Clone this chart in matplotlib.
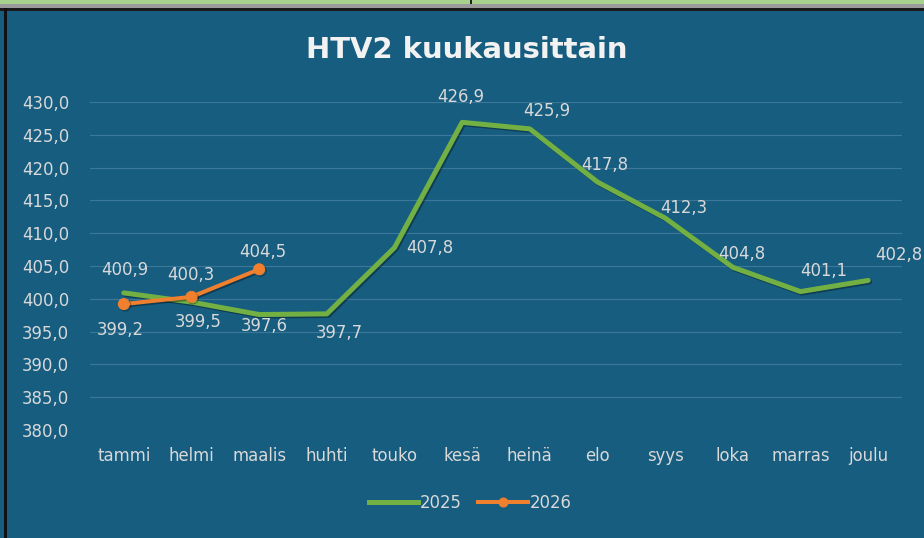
import matplotlib
matplotlib.use("Agg")
import matplotlib.pyplot as plt
import matplotlib.patheffects as pe
from matplotlib.lines import Line2D
from matplotlib.patches import Rectangle

months = ["tammi", "helmi", "maalis", "huhti", "touko", "kesä", "heinä",
          "elo", "syys", "loka", "marras", "joulu"]
values_2025 = [400.9, 399.5, 397.6, 397.7, 407.8, 426.9, 425.9, 417.8, 412.3, 404.8, 401.1, 402.8]
values_2026 = [399.2, 400.3, 404.5]
yticks = [380, 385, 390, 395, 400, 405, 410, 415, 420, 425, 430]

# label offsets in pixels (dx, dy)
off_2025 = [(1, 23), (7, -20), (5, -11), (12, -19), (35, 0), (-1, 25),
            (17, 18), (7, 17), (19, 10), (9, 13), (23, 21), (31, 25)]
off_2026 = [(-4, -26), (-1, 22), (4, 17)]

BG = "#175D80"
TXT = "#D9D9D9"
GREEN = "#73B043"
ORANGE = "#F07F2E"
GRID = "#3B7798"

plt.rcParams['font.family'] = ['DejaVu Sans']

fig = plt.figure(figsize=(924 / 72, 538 / 72), dpi=72)
fig.patch.set_facecolor(BG)

# spreadsheet strip on top
fig.patches.append(Rectangle((0, 1 - 4 / 538), 1, 4 / 538, transform=fig.transFigure,
                             facecolor="#A9D18E", edgecolor="none", zorder=0))
fig.patches.append(Rectangle((0, 1 - 8 / 538), 1, 4 / 538, transform=fig.transFigure,
                             facecolor="#9A9A9A", edgecolor="none", zorder=0))
fig.patches.append(Rectangle((0, 1 - 11 / 538), 1, 3 / 538, transform=fig.transFigure,
                             facecolor="#1A1A1A", edgecolor="none", zorder=0))
fig.patches.append(Rectangle((470 / 924, 1 - 4 / 538), 2 / 924, 4 / 538, transform=fig.transFigure,
                             facecolor="#222222", edgecolor="none", zorder=1))
fig.patches.append(Rectangle((4 / 924, 0), 3 / 924, 1 - 8 / 538, transform=fig.transFigure,
                             facecolor="#111111", edgecolor="none", zorder=0))

ax = fig.add_axes([90 / 924, 1 - 430 / 538, 812 / 924, 328 / 538])
ax.set_facecolor(BG)
for s in ax.spines.values():
    s.set_visible(False)

x = list(range(len(months)))
x26 = x[:len(values_2026)]

shadow = [pe.SimpleLineShadow(offset=(1.5, -1.5), shadow_color="black", alpha=0.35), pe.Normal()]
ax.plot(x, values_2025, color=GREEN, lw=5, solid_capstyle="round", solid_joinstyle="round",
        zorder=3, path_effects=shadow)
ax.plot(x26, values_2026, color=ORANGE, lw=4, marker="o", markersize=11,
        solid_capstyle="round", zorder=4, path_effects=shadow)

ax.set_xlim(-0.5, 11.5)
ax.set_ylim(380, 430)
ax.set_yticks(yticks)
ax.set_yticklabels([f"{v:.1f}".replace(".", ",") for v in yticks])
ax.set_xticks(x)
ax.set_xticklabels(months)
ax.tick_params(axis="both", length=0, colors=TXT, labelsize=16.5)
ax.tick_params(axis="y", pad=21)
ax.tick_params(axis="x", pad=17)
ax.grid(axis="y", color=GRID, lw=1.2)
ax.set_axisbelow(True)

def fmt(v):
    return f"{v:.1f}".replace(".", ",")

for xi, v, (dx, dy) in zip(x, values_2025, off_2025):
    ax.annotate(fmt(v), (xi, v), xytext=(dx, dy), textcoords="offset points",
                ha="center", va="center", color=TXT, fontsize=16.5, zorder=5)
for xi, v, (dx, dy) in zip(x26, values_2026, off_2026):
    ax.annotate(fmt(v), (xi, v), xytext=(dx, dy), textcoords="offset points",
                ha="center", va="center", color=TXT, fontsize=16.5, zorder=5)

fig.text(467 / 924, 1 - 50 / 538, "HTV2 kuukausittain", ha="center", va="center",
         color="#F2F2F2", fontsize=29, fontweight="bold")

handles = [Line2D([], [], color=GREEN, lw=5),
           Line2D([], [], color=ORANGE, lw=4, marker="o", markersize=9)]
leg = fig.legend(handles, ["2025", "2026"], loc="center", bbox_to_anchor=(470 / 924, 1 - 503 / 538),
                 ncol=2, frameon=False, fontsize=16.5, labelcolor=TXT, handlelength=3.0,
                 handletextpad=0.1, columnspacing=1.0)

fig.savefig("out.png", dpi=72, facecolor=BG)
